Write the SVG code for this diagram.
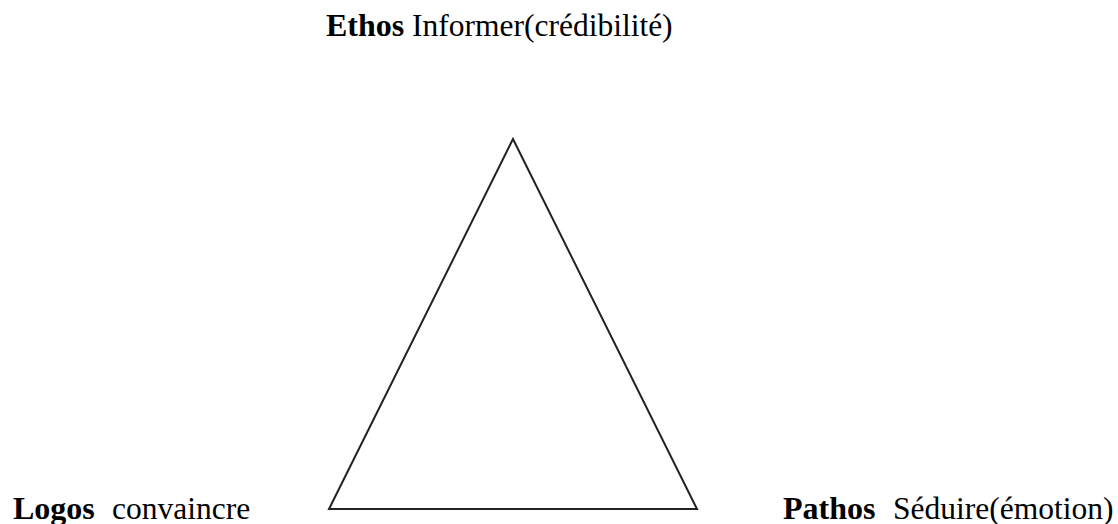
<svg xmlns="http://www.w3.org/2000/svg" width="1118" height="524" viewBox="0 0 1118 524">
<style>
.t{font-family:"Liberation Serif","Times New Roman",serif;font-size:31.5px;fill:#000}
.b{font-weight:bold;font-size:32px}
.edge{fill:none;stroke:#222;stroke-width:2;stroke-linejoin:miter}
</style>
<rect width="1118" height="524" fill="#fff"/>
<g id="connectors">
<polygon class="edge" points="513,139 329,509 697,509"/>
</g>
<g id="ethos">
<text class="t" y="36"><tspan class="b" x="326">Ethos</tspan><tspan x="412">Informer(crédibilité)</tspan></text>
</g>
<g id="logos">
<text class="t" y="519"><tspan class="b" x="13">Logos</tspan><tspan x="112">convaincre</tspan></text>
</g>
<g id="pathos">
<text class="t" y="519"><tspan class="b" x="783">Pathos</tspan><tspan x="893">Séduire(émotion)</tspan></text>
</g>
</svg>
